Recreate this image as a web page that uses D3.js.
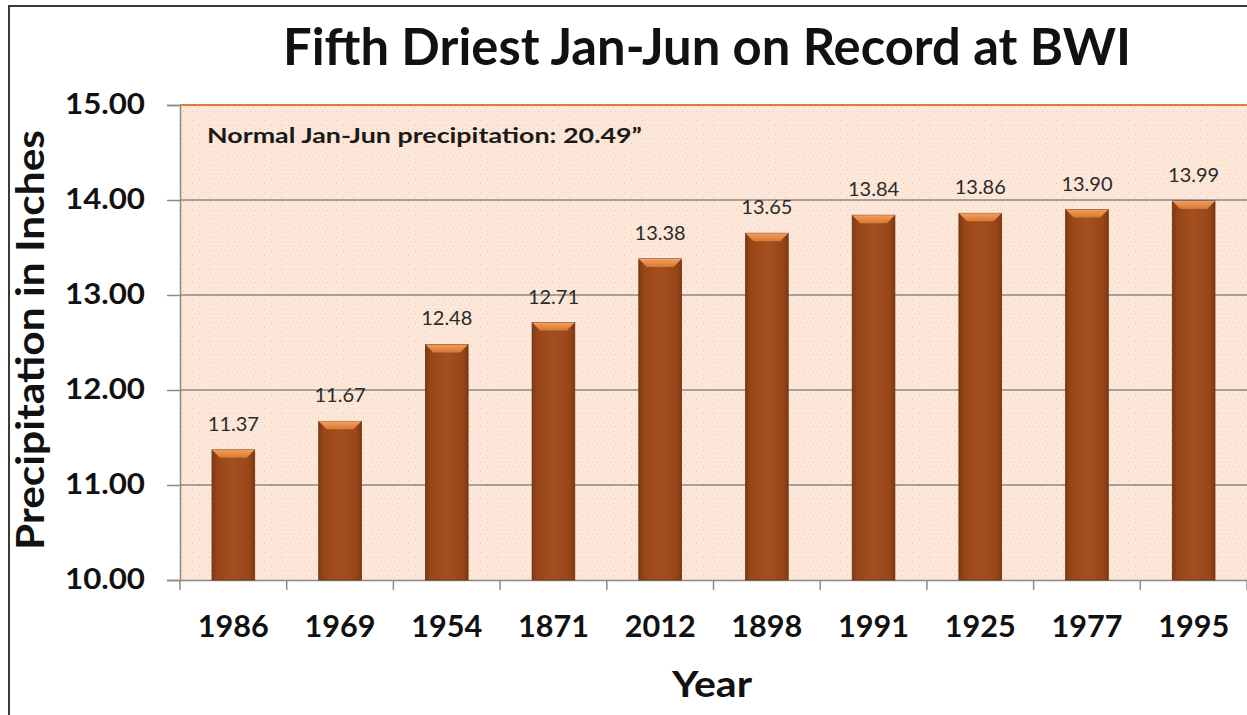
<!DOCTYPE html>
<html>
<head>
<meta charset="utf-8">
<script src="https://cdn.jsdelivr.net/npm/d3@7"></script>
<style>
  body { margin: 0; background: #fff; }
  svg text { font-family: Lato, "Open Sans", sans-serif; }
</style>
</head>
<body>
<div id="chart"></div>
<script>
// data
const years = ["1986", "1969", "1954", "1871", "2012", "1898", "1991", "1925", "1977", "1995"];
const precip = [11.37, 11.67, 12.48, 12.71, 13.38, 13.65, 13.84, 13.86, 13.90, 13.99];
const yTicks = [10, 11, 12, 13, 14, 15];

const W = 1247, H = 715;
const margin = {top: 105, right: 0, bottom: 135, left: 180};
const width = W - margin.left - margin.right;
const height = H - margin.top - margin.bottom;

const svg = d3.select("#chart").append("svg")
    .attr("width", W)
    .attr("height", H);

// speckled peach fill + bar gradients
const defs = svg.append("defs");
const pat = defs.append("pattern")
    .attr("id", "speckle")
    .attr("width", 9).attr("height", 9)
    .attr("patternUnits", "userSpaceOnUse");
pat.append("rect").attr("width", 9).attr("height", 9).attr("fill", "#fce7d8");
[[1, 2, "#e9c8b4"], [5, 1, "#f3d6c2"], [3, 6, "#e6c4ae"], [7, 5, "#f0d2be"], [0, 8, "#f5dccb"]].forEach(d => {
    pat.append("rect").attr("x", d[0]).attr("y", d[1]).attr("width", 1).attr("height", 1).attr("fill", d[2]);
});

const barGrad = defs.append("linearGradient").attr("id", "barGrad")
    .attr("x1", "0%").attr("x2", "100%").attr("y1", "0%").attr("y2", "0%");
barGrad.append("stop").attr("offset", "0%").attr("stop-color", "#7e3814");
barGrad.append("stop").attr("offset", "12%").attr("stop-color", "#974619");
barGrad.append("stop").attr("offset", "50%").attr("stop-color", "#a44f20");
barGrad.append("stop").attr("offset", "88%").attr("stop-color", "#974619");
barGrad.append("stop").attr("offset", "100%").attr("stop-color", "#7e3814");

const capGrad = defs.append("linearGradient").attr("id", "capGrad")
    .attr("x1", "0%").attr("x2", "0%").attr("y1", "0%").attr("y2", "100%");
capGrad.append("stop").attr("offset", "0%").attr("stop-color", "#f0a060");
capGrad.append("stop").attr("offset", "100%").attr("stop-color", "#d9782f");

// outer frame
svg.append("path")
    .attr("d", `M9,${H} V6 H${W}`)
    .attr("fill", "none")
    .attr("stroke", "#3a3a3a")
    .attr("stroke-width", 2);

const g = svg.append("g")
    .attr("transform", `translate(${margin.left},${margin.top})`);

const x = d3.scaleBand()
    .domain(years)
    .range([0, width])
    .paddingInner(0.6)
    .paddingOuter(0.3);

const y = d3.scaleLinear()
    .domain([10, 15])
    .range([height, 0]);

// plot background
g.append("rect")
    .attr("width", width)
    .attr("height", height)
    .attr("fill", "url(#speckle)");

// gridlines
g.append("g")
    .selectAll("line")
    .data(yTicks.filter(t => t > 10 && t < 15))
    .join("line")
    .attr("x1", 0).attr("x2", width)
    .attr("y1", d => y(d)).attr("y2", d => y(d))
    .attr("stroke", "#8a8a8a")
    .attr("stroke-width", 1.5);

// top border in orange
g.append("line")
    .attr("x1", 0).attr("x2", width)
    .attr("y1", y(15)).attr("y2", y(15))
    .attr("stroke", "#e27a3e")
    .attr("stroke-width", 2);

// y axis
const yAxis = g.append("g")
    .call(d3.axisLeft(y).tickValues(yTicks).tickFormat(d3.format(".2f")).tickSize(13).tickPadding(22));
yAxis.select(".domain").attr("stroke", "#8a8a8a").attr("stroke-width", 1.5);
yAxis.selectAll(".tick line").attr("stroke", "#8a8a8a").attr("stroke-width", 1.5);
yAxis.selectAll("text")
    .attr("font-size", 28)
    .attr("font-weight", "bold")
    .attr("fill", "#111")
    .attr("font-family", "Lato, sans-serif")
    .attr("textLength", 80)
    .attr("lengthAdjust", "spacingAndGlyphs");

// x axis (ticks between categories)
const xAxis = g.append("g")
    .attr("transform", `translate(0,${height})`)
    .call(d3.axisBottom(x).tickSize(0));
xAxis.select(".domain").attr("stroke", "#8a8a8a").attr("stroke-width", 1.5);
xAxis.selectAll("text")
    .attr("y", 57)
    .attr("dy", null)
    .attr("font-size", 30)
    .attr("font-weight", "bold")
    .attr("fill", "#111")
    .attr("font-family", "Lato, sans-serif")
    .attr("textLength", 71)
    .attr("lengthAdjust", "spacingAndGlyphs");
xAxis.append("g")
    .selectAll("line")
    .data(d3.range(years.length + 1))
    .join("line")
    .attr("x1", i => i * x.step()).attr("x2", i => i * x.step())
    .attr("y1", 0).attr("y2", 10)
    .attr("stroke", "#8a8a8a")
    .attr("stroke-width", 1.5);

// bars
const rows = years.map((yr, i) => ({year: yr, value: precip[i]}));
const bars = g.append("g").selectAll("g")
    .data(rows)
    .join("g");

bars.append("rect")
    .attr("x", d => x(d.year))
    .attr("y", d => y(d.value))
    .attr("width", x.bandwidth())
    .attr("height", d => height - y(d.value))
    .attr("fill", "url(#barGrad)")
    .attr("stroke", "#6e3010")
    .attr("stroke-width", 0.8);

// bevelled cap
bars.append("path")
    .attr("d", d => {
        const x0 = x(d.year), x1 = x0 + x.bandwidth(), y0 = y(d.value);
        return `M${x0},${y0} H${x1} L${x1 - 8},${y0 + 8} H${x0 + 8} Z`;
    })
    .attr("fill", "url(#capGrad)");

// value labels
bars.append("text")
    .attr("x", d => x(d.year) + x.bandwidth() / 2)
    .attr("y", d => y(d.value) - 19)
    .attr("text-anchor", "middle")
    .attr("font-size", 20)
    .attr("fill", "#2a2a2a")
    .attr("font-family", "'DejaVu Sans', Verdana, sans-serif")
    .text(d => d.value.toFixed(2));

// annotation
g.append("text")
    .attr("x", 27)
    .attr("y", 38)
    .attr("font-size", 21)
    .attr("font-weight", "bold")
    .attr("fill", "#1a1a1a")
    .attr("textLength", 435)
    .attr("lengthAdjust", "spacingAndGlyphs")
    .text("Normal Jan-Jun precipitation: 20.49\u201d");

// title
svg.append("text")
    .attr("x", 707)
    .attr("y", 65)
    .attr("text-anchor", "middle")
    .attr("font-size", 51)
    .attr("font-weight", "bold")
    .attr("fill", "#111")
    .attr("textLength", 848)
    .attr("lengthAdjust", "spacingAndGlyphs")
    .text("Fifth Driest Jan-Jun on Record at BWI");

// axis titles
svg.append("text")
    .attr("transform", `translate(44,340) rotate(-90)`)
    .attr("text-anchor", "middle")
    .attr("font-size", 39)
    .attr("font-weight", "bold")
    .attr("fill", "#111")
    .attr("textLength", 420)
    .attr("lengthAdjust", "spacingAndGlyphs")
    .text("Precipitation in Inches");

svg.append("text")
    .attr("x", 712)
    .attr("y", 697)
    .attr("text-anchor", "middle")
    .attr("font-size", 37)
    .attr("font-weight", "bold")
    .attr("fill", "#111")
    .attr("textLength", 80)
    .attr("lengthAdjust", "spacingAndGlyphs")
    .text("Year");
</script>
</body>
</html>
